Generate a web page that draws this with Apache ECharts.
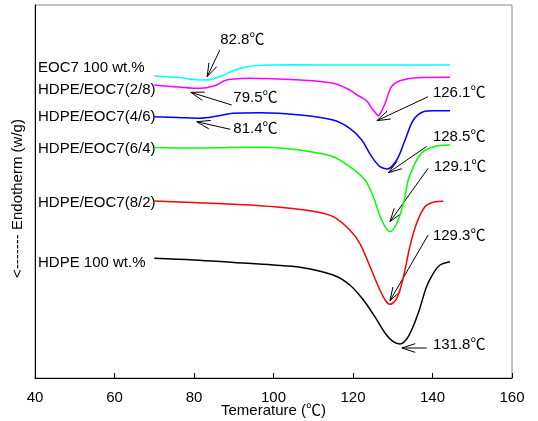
<!DOCTYPE html>
<html>
<head>
<meta charset="utf-8">
<script src="https://cdn.jsdelivr.net/npm/echarts@6/dist/echarts.min.js"></script>
<style>html,body{margin:0;padding:0;background:#fff;}#c{width:538px;height:421px;}</style>
</head>
<body>
<div id="c"></div>
<script>
// ---- data (temperature in degC, heat flow in arbitrary offset units) ----
const seriesNames = ['EOC7 100 wt.%', 'HDPE/EOC7(2/8)', 'HDPE/EOC7(4/6)', 'HDPE/EOC7(6/4)', 'HDPE/EOC7(8/2)', 'HDPE 100 wt.%'];

const tEOC = [70, 76, 80, 83, 85, 87.5, 90, 93, 97, 105, 120, 135, 144.4];
const hEOC = [302, 300.5, 298.5, 298, 299.5, 303, 307.5, 311, 312.7, 313.2, 313, 313, 313];

const t28 = [70, 76, 81.5, 85, 88.2, 92, 94, 100, 106.7, 115, 119.2, 121, 122.5, 123.5, 124.7, 125.5, 126.4, 127.2, 128.1, 129.7, 131.8, 136, 144.4];
const h28 = [293, 291, 289.7, 292, 298, 299.5, 299.7, 299.2, 298, 294.7, 288, 283, 279.7, 277, 269.7, 266, 262.3, 267, 274.7, 291.3, 297.3, 300.3, 300.7];

const t46 = [70, 76, 81.5, 86, 89.8, 96.6, 106.7, 115, 119.2, 122.2, 124.7, 126.8, 128.6, 131, 133.1, 135.2, 137.7, 140.2, 144.4];
const h46 = [261.3, 260.5, 259.7, 262, 264.7, 265.3, 263, 258, 249.7, 238, 221.3, 211.3, 209, 218, 238, 258, 266.3, 267.3, 267.3];

const t64 = [70, 80, 90, 96.6, 103, 109.2, 115, 119.2, 123, 125.1, 127.2, 129.3, 131, 132.7, 133.9, 135.2, 136.5, 138, 141, 144.4];
const h64 = [230.5, 230, 230.5, 230.7, 229.5, 226.3, 221.3, 211.3, 198, 181.3, 158, 146.3, 154.7, 174.7, 198, 211.3, 221, 227.5, 232, 233];

const t82 = [70, 80, 94, 109.2, 115, 119.2, 121.7, 124.3, 126.4, 128.1, 129.3, 131, 132.7, 134.3, 136, 138.1, 140.2, 142.7];
const h82 = [177, 175.5, 173, 167.3, 161.3, 148, 134.7, 111.3, 91.3, 78, 73.7, 79.7, 101.3, 131.3, 154.7, 171.3, 175.7, 176.7];

const tHDPE = [70, 80, 90, 100, 106.7, 115, 119.2, 122.6, 125.5, 128.1, 130.1, 131.8, 133.9, 136.4, 138.5, 140.2, 141.9, 144.4];
const hHDPE = [119.7, 118, 115.5, 113, 110.7, 103, 93, 78, 61.3, 44.7, 36.3, 34, 41.3, 64.7, 91.3, 104.7, 113, 116.3];

const xTicks = [40, 60, 80, 100, 120, 140, 160];

// peak annotation texts
const peakLabels = ['82.8℃', '79.5℃', '81.4℃', '126.1℃', '128.5℃', '129.1℃', '129.3℃', '131.8℃'];
</script>
<script>
const FONT = '"Liberation Sans", Arial, "Noto Sans CJK SC", sans-serif';
const colors = ['#00FFFF', '#FF00FF', '#0000FF', '#00FF00', '#FF0000', '#000000'];
const temps = [tEOC, t28, t46, t64, t82, tHDPE];
const heats = [hEOC, h28, h46, h64, h82, hHDPE];

// placement of annotations (data coordinates): arrow tip, arrow tail, text anchor
const annPlace = [
  {tip: [83.3, 301.3], tail: [86.5, 328], text: [86.6, 338]},
  {tip: [79.2, 285.7], tail: [89.5, 273], text: [89.9, 280]},
  {tip: [80.7, 256.3], tail: [89.1, 248.7], text: [89.9, 249]},
  {tip: [126.0, 257.3], tail: [138.9, 281.3], text: [140.1, 285]},
  {tip: [128.9, 205.3], tail: [138.5, 231.5], text: [140.1, 241]},
  {tip: [129.3, 156.3], tail: [138.9, 209.7], text: [140.3, 211]},
  {tip: [129.3, 77.3], tail: [138.9, 143], text: [140.1, 142]},
  {tip: [132.3, 30], tail: [138.5, 30], text: [140.1, 33]}
];
// series name label anchors (data coordinates)
const nameAnchors = [[40.75, 310], [40.75, 288], [40.75, 261], [40.75, 229], [40.75, 175], [40.75, 115]];

const chart = echarts.init(document.getElementById('c'), null, {renderer: 'canvas'});

const series = seriesNames.map((n, i) => ({
  name: n,
  type: 'line',
  data: temps[i].map((t, k) => [t, heats[i][k]]),
  smooth: 0.35,
  showSymbol: false,
  symbol: 'none',
  lineStyle: {color: colors[i], width: 1.5},
  animation: false
}));

chart.setOption({
  animation: false,
  backgroundColor: '#fff',
  grid: {left: 35, right: 26, top: 5, bottom: 43, containLabel: false, outerBoundsMode: 'none',
         show: true, borderColor: '#888', borderWidth: 1, backgroundColor: 'transparent'},
  xAxis: {
    type: 'value', min: xTicks[0], max: xTicks[xTicks.length - 1], interval: 20,
    axisLine: {lineStyle: {color: '#000', width: 1}},
    axisTick: {inside: true, length: 5, lineStyle: {color: '#000'}},
    axisLabel: {color: '#000', fontSize: 15, fontFamily: FONT, margin: 12},
    splitLine: {show: false},
    name: 'Temerature (℃)', nameLocation: 'middle', nameGap: 25, nameMoveOverlap: false,
    nameTextStyle: {color: '#000', fontSize: 15, fontFamily: FONT}
  },
  yAxis: {
    type: 'value', min: 0, max: 373,
    axisLine: {show: true, lineStyle: {color: '#000', width: 1}},
    axisTick: {show: false},
    axisLabel: {show: false},
    splitLine: {show: false},
    name: '<------- Endotherm (w/g)', nameLocation: 'middle', nameRotate: 90, nameGap: 10,
    nameTextStyle: {color: '#000', fontSize: 15, fontFamily: FONT, padding: [0, 14, 0, 0]}
  },
  series: series
});

function drawAnnotations() {
  const g = [];
  const px = (p) => chart.convertToPixel({gridIndex: 0}, p);
  annPlace.forEach((a, i) => {
    const tip = px(a.tip), tail = px(a.tail), tp = px(a.text);
    const dx = tail[0] - tip[0], dy = tail[1] - tip[1];
    const L = Math.hypot(dx, dy), ux = dx / L, uy = dy / L;
    const ang = 18 * Math.PI / 180, hl = 14;
    const b1 = [tip[0] + hl * (ux * Math.cos(ang) - uy * Math.sin(ang)), tip[1] + hl * (ux * Math.sin(ang) + uy * Math.cos(ang))];
    const b2 = [tip[0] + hl * (ux * Math.cos(-ang) - uy * Math.sin(-ang)), tip[1] + hl * (ux * Math.sin(-ang) + uy * Math.cos(-ang))];
    g.push({type: 'line', shape: {x1: tail[0], y1: tail[1], x2: tip[0], y2: tip[1]}, style: {stroke: '#000', lineWidth: 1}, silent: true});
    g.push({type: 'polyline', shape: {points: [b1, tip, b2]}, style: {stroke: '#000', lineWidth: 1, fill: null}, silent: true});
    g.push({type: 'text', x: tp[0], y: tp[1], style: {text: peakLabels[i], fill: '#000', font: '15px ' + FONT, align: 'left', verticalAlign: 'middle'}, silent: true});
  });
  nameAnchors.forEach((p, i) => {
    const q = px(p);
    g.push({type: 'text', x: q[0], y: q[1], style: {text: seriesNames[i], fill: '#000', font: '15px ' + FONT, align: 'left', verticalAlign: 'middle'}, silent: true});
  });
  chart.setOption({graphic: g});
}
drawAnnotations();
</script>
</body>
</html>
